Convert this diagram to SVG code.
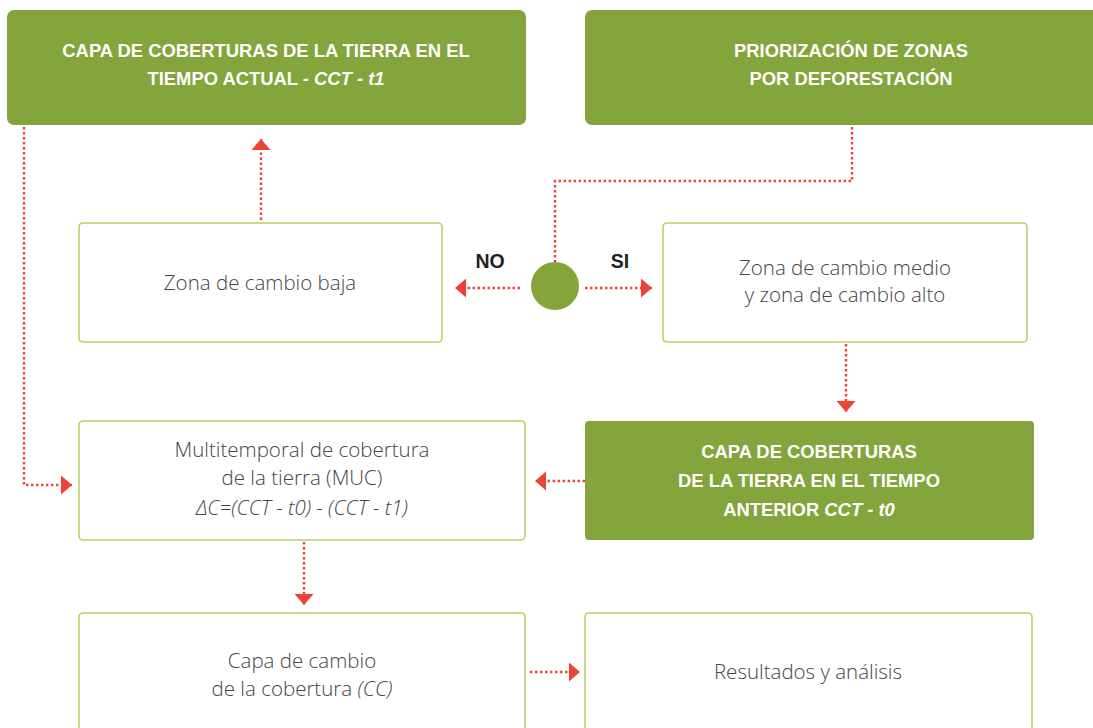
<svg xmlns="http://www.w3.org/2000/svg" width="1093" height="728" viewBox="0 0 1093 728">
<defs>
<style>
.gbox{fill:#84a43c;}
.wbox{fill:#fff;stroke:#b8d06c;stroke-width:1.6;}
.ht{font-family:"Liberation Sans",Arial,sans-serif;font-weight:bold;font-size:18.4px;fill:#fff;text-anchor:middle;}
.bt{font-family:"Open Sans","Noto Sans",sans-serif;font-weight:300;font-size:20.5px;fill:#444;text-anchor:middle;}
.lbl{font-family:"Liberation Sans",Arial,sans-serif;font-weight:bold;font-size:19.5px;fill:#222;text-anchor:middle;}
.con{fill:none;stroke:#ef4136;stroke-width:2.4;stroke-dasharray:2.4 2.6;}
</style>
<marker id="ah" viewBox="0 0 11 19" refX="11" refY="9.5" markerWidth="11" markerHeight="19" markerUnits="userSpaceOnUse" orient="auto">
<polygon points="0,0 11,9.5 0,19" fill="#ef4136"/>
</marker>
</defs>
<rect width="1093" height="728" fill="#fff"/>

<g id="connectors">
<polyline class="con" points="24,127 24,485 72,485" marker-end="url(#ah)"/>
<line class="con" x1="261" y1="220" x2="261" y2="139" marker-end="url(#ah)"/>
<polyline class="con" points="852,127 852,181 555,181 555,262"/>
<line class="con" x1="520" y1="288" x2="455" y2="288" marker-end="url(#ah)"/>
<line class="con" x1="585" y1="288" x2="652" y2="288" marker-end="url(#ah)"/>
<line class="con" x1="846" y1="344" x2="846" y2="412" marker-end="url(#ah)"/>
<line class="con" x1="585" y1="481" x2="535" y2="481" marker-end="url(#ah)"/>
<line class="con" x1="304" y1="542" x2="304" y2="605" marker-end="url(#ah)"/>
<line class="con" x1="530" y1="672" x2="580" y2="672" marker-end="url(#ah)"/>
</g>

<g id="cct-t1">
<rect class="gbox" x="7" y="10" width="519" height="115" rx="7"/>
<text class="ht" x="266" y="57">CAPA DE COBERTURAS DE LA TIERRA EN EL</text>
<text class="ht" x="266" y="85">TIEMPO ACTUAL - <tspan font-style="italic">CCT - t1</tspan></text>
</g>

<g id="priorizacion">
<rect class="gbox" x="585" y="10" width="520" height="115" rx="7"/>
<text class="ht" x="851" y="57">PRIORIZACIÓN DE ZONAS</text>
<text class="ht" x="851" y="85">POR DEFORESTACIÓN</text>
</g>

<g id="zona-baja">
<rect class="wbox" x="79" y="223" width="363" height="119" rx="4"/>
<text class="bt" x="260" y="290">Zona de cambio baja</text>
</g>

<g id="decision">
<circle cx="555" cy="286" r="24" fill="#84a43c"/>
<text class="lbl" x="490" y="268">NO</text>
<text class="lbl" x="620" y="268">SI</text>
</g>

<g id="zona-medio">
<rect class="wbox" x="663" y="223" width="364" height="119" rx="4"/>
<text class="bt" x="845" y="275">Zona de cambio medio</text>
<text class="bt" x="845" y="302">y zona de cambio alto</text>
</g>

<g id="multitemporal">
<rect class="wbox" x="79" y="421" width="446" height="119" rx="4"/>
<text class="bt" x="302" y="457">Multitemporal de cobertura</text>
<text class="bt" x="302" y="485">de la tierra (MUC)</text>
<text class="bt" x="302" y="515" font-style="italic">ΔC=(CCT - t0) - (CCT - t1)</text>
</g>

<g id="cct-t0">
<rect class="gbox" x="585" y="421" width="449" height="119" rx="4"/>
<text class="ht" x="809" y="458">CAPA DE COBERTURAS</text>
<text class="ht" x="809" y="487">DE LA TIERRA EN EL TIEMPO</text>
<text class="ht" x="809" y="516">ANTERIOR <tspan font-style="italic">CCT - t0</tspan></text>
</g>

<g id="capa-cambio">
<rect class="wbox" x="79" y="613" width="446" height="130" rx="4"/>
<text class="bt" x="302" y="668">Capa de cambio</text>
<text class="bt" x="302" y="696">de la cobertura <tspan font-style="italic">(CC)</tspan></text>
</g>

<g id="resultados">
<rect class="wbox" x="585" y="613" width="447" height="130" rx="4"/>
<text class="bt" x="808" y="679">Resultados y análisis</text>
</g>
</svg>
